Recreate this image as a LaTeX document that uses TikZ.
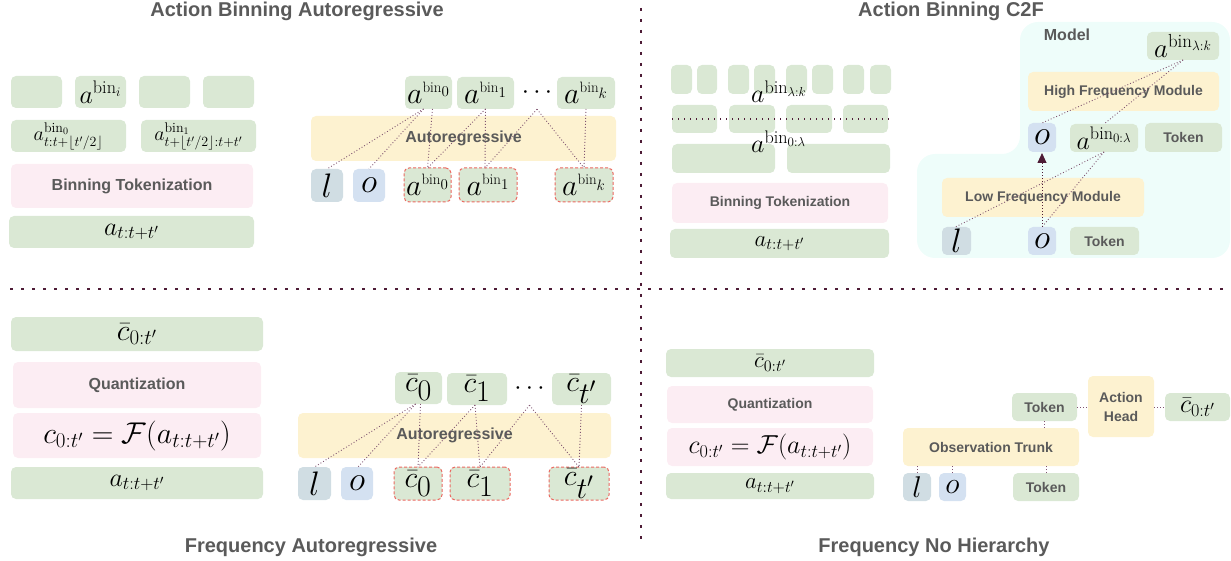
\RequirePackage{fix-cm}
\documentclass[tikz,border=0pt]{standalone}
\usepackage{fontspec}
\setsansfont{Liberation Sans}
\usetikzlibrary{arrows.meta}

\definecolor{cgreen}{RGB}{218,232,212}
\definecolor{cpink}{RGB}{252,237,243}
\definecolor{cyellow}{RGB}{253,242,208}
\definecolor{cgreyblue}{RGB}{208,221,227}
\definecolor{cblue}{RGB}{212,225,241}
\definecolor{cmint}{RGB}{238,253,250}
\definecolor{cred}{RGB}{236,104,96}
\definecolor{tgray}{RGB}{90,90,90}
\definecolor{lncol}{RGB}{128,84,112}
\definecolor{divcol}{RGB}{78,28,54}

% box from corner (#3,#4) to corner (#5,#6), pixel units, y downwards
\newcommand\bx[6]{%
  \node[#2, minimum width={(#5-#3)*1pt}, minimum height={(#6-#4)*1pt}]
    (#1) at ({(#3+#5)/2},{(#4+#6)/2})}
% bin-indexed action token with a small superscript
\newcommand\abin[1]{a^{\scriptscriptstyle\mathrm{bin}_{#1}}}
% quantised coefficient with a full-size index
\newcommand\cq[1]{\bar{c}_{\textstyle #1}}

\begin{document}
\begin{tikzpicture}[x=1pt,y=-1pt,
  base/.style={inner sep=0pt, outer sep=0pt, rounded corners=5pt},
  gbox/.style={base, fill=cgreen},
  pbox/.style={base, fill=cpink},
  ybox/.style={base, fill=cyellow},
  lbox/.style={base, fill=cgreyblue},
  obox/.style={base, fill=cblue},
  rbox/.style={base, fill=cgreen, draw=cred, line width=1pt, dash pattern=on 3pt off 2pt},
  lbl/.style={font=\sffamily\bfseries\fontsize{14}{16}\selectfont, text=tgray},
  lblb/.style={font=\sffamily\bfseries\fontsize{16}{18}\selectfont, text=tgray},
  title/.style={font=\sffamily\bfseries\fontsize{20}{24}\selectfont, text=tgray, anchor=base},
  mbig/.style={font=\fontsize{34}{38}\selectfont},
  mlg/.style={font=\fontsize{30}{34}\selectfont},
  mmd/.style={font=\fontsize{26}{30}\selectfont},
  msm/.style={font=\fontsize{23}{27}\selectfont},
  mxs/.style={font=\fontsize{20}{24}\selectfont},
  conn/.style={draw=lncol, line width=0.9pt, dash pattern=on 0.9pt off 2.1pt},
  divider/.style={draw=divcol, line width=2.6pt, dash pattern=on 2.6pt off 8.4pt},
]
\useasboundingbox (0,0) rectangle (1231,561);

% ---------- quadrant dividers ----------
\coordinate (vTop) at (641,8);
\coordinate (vBot) at (641,542);
\coordinate (hL) at (10,289);
\coordinate (hR) at (1229,289);
\draw[divider] (vTop) -- (vBot);
\draw[divider] (hL) -- (hR);

% ---------- titles ----------
\node[title] (t1) at (297,17) {Action Binning Autoregressive};
\node[title] (t2) at (951,17) {Action Binning C2F};
\node[title] (t3) at (311,552) {Frequency Autoregressive};
\node[title] (t4) at (934,552) {Frequency No Hierarchy};

% =========== Action Binning Autoregressive ===========
\bx{r1a}{gbox}{11}{76}{62}{108}{};
\bx{r1b}{gbox,mmd}{75}{76}{126}{108}{$a^{\mathrm{bin}_i}$};
\bx{r1c}{gbox}{139}{76}{190}{108}{};
\bx{r1d}{gbox}{203}{76}{254}{108}{};
\bx{r2a}{gbox,mxs}{11}{120}{126}{152}{$a^{\mathrm{bin}_0}_{t:t+\lfloor t'/2\rfloor}$};
\bx{r2b}{gbox,mxs}{141}{120}{256}{152}{$a^{\mathrm{bin}_1}_{t+\lfloor t'/2\rfloor:t+t'}$};
\bx{bt1}{pbox,lblb}{11}{164}{253}{208}{Binning Tokenization};
\bx{at1}{gbox,mmd}{9}{216}{254}{248}{$a_{t:t+t'}$};

\bx{ar1}{ybox,lblb}{311}{116}{616}{161}{Autoregressive};
\bx{tb0}{gbox,mlg}{405}{76}{452}{109}{$\abin{0}$};
\bx{tb1}{gbox,mlg}{457}{77}{514}{109}{$\abin{1}$};
\bx{tdots}{mmd}{522}{77}{552}{109}{$\cdots$};
\bx{tbk}{gbox,mlg}{557}{77}{615}{109}{$\abin{k}$};
\bx{l1}{lbox,mbig}{311}{169}{343}{202}{$l$};
\bx{o1}{obox,mbig}{353}{169}{385}{202}{$o$};
\bx{bb0}{rbox,mlg}{404}{168}{451}{202}{$\abin{0}$};
\bx{bb1}{rbox,mlg}{459}{168}{517}{202}{$\abin{1}$};
\bx{bbk}{rbox,mlg}{555}{168}{613}{202}{$\abin{k}$};

\draw[conn] ([xshift=-5pt]tb0.south) -- ([xshift=0pt]l1.north);
\draw[conn] ([xshift=-5pt]tb0.south) -- ([xshift=0pt]o1.north);
\draw[conn] ([xshift=4pt]tb0.south) -- (bb0.north);
\draw[conn] (tb1.south) -- (bb0.north);
\draw[conn] (tb1.south) -- ([xshift=-3pt]bb1.north);
\draw[conn] (tdots.south) -- ([xshift=-3pt]bb1.north);
\draw[conn] (tdots.south) -- (bbk.north);
\draw[conn] (tbk.south) -- (bbk.north);

% =========== Action Binning C2F ===========
\foreach \xa/\xb [count=\i] in {671/692,697/717,728/749,754/775,786/807,812/833,843/864,870/891}
  {\bx{s\i}{gbox}{\xa}{65}{\xb}{94}{};}
\foreach \xa/\xb [count=\i] in {672/717,729/775,786/832,843/888}
  {\bx{m\i}{gbox}{\xa}{105}{\xb}{133}{};}
\bx{w1}{gbox}{672}{144}{775}{173}{};
\bx{w2}{gbox}{787}{144}{890}{173}{};
\coordinate (sepL) at (672,119);
\coordinate (sepR) at (889,119);
\draw[draw=divcol, line width=1.3pt, dash pattern=on 1.3pt off 4.7pt] (sepL) -- (sepR);
\node[mmd, anchor=base west, inner sep=0pt] (hiLbl) at (751,103) {$a^{\mathrm{bin}_{\lambda:k}}$};
\node[mmd, anchor=base west, inner sep=0pt] (loLbl) at (751,153) {$a^{\mathrm{bin}_{0:\lambda}}$};
\bx{bt2}{pbox,lbl}{672}{183}{888}{223}{Binning Tokenization};
\bx{at2}{gbox,msm}{670}{229}{889}{258}{$a_{t:t+t'}$};

% model region
\fill[cmint, rounded corners=18pt] (917,258) -- (917,154) -- (1020,154) -- (1020,22)
  -- (1230,22) -- (1230,258) -- cycle;
\node[lblb] (model) at (1067,35) {Model};
\bx{mk}{gbox,font=\fontsize{27}{31}\selectfont}{1147}{32}{1219}{60}{$a^{\mathrm{bin}_{\lambda:k}}$};
\bx{hfm}{ybox,lbl}{1028}{72}{1219}{111}{High Frequency Module};
\bx{ou}{obox,mbig}{1028}{123}{1056}{152}{$o$};
\bx{m0}{gbox,mmd}{1070}{124}{1138}{152}{$a^{\mathrm{bin}_{0:\lambda}}$};
\bx{tku}{gbox,lbl}{1145}{123}{1222}{152}{Token};
\bx{lfm}{ybox,lbl}{942}{178}{1144}{217}{Low Frequency Module};
\bx{ll}{lbox,mbig}{942}{227}{971}{255}{$l$};
\bx{ol}{obox,mbig}{1028}{227}{1056}{255}{$o$};
\bx{tkl}{gbox,lbl}{1070}{227}{1139}{255}{Token};

\draw[conn] (mk.south) -- (ou.north);
\draw[conn] (mk.south) -- (m0.north);
\draw[conn] (m0.south) -- ([xshift=-1pt]ll.north);
\draw[conn] (m0.south) -- (ol.north);
\draw[conn, -{Triangle[width=9pt,length=10pt]}, divcol] (ol.north) -- ([yshift=-1pt]ou.south);

% =========== Frequency Autoregressive ===========
\bx{cb3}{gbox,mlg}{11}{317}{263}{351}{$\bar{c}_{0:t'}$};
\bx{q3}{pbox,lblb}{13}{362}{261}{408}{Quantization};
\bx{f3}{pbox,mlg}{13}{413}{261}{458}{$c_{0:t'} = \mathcal{F}(a_{t:t+t'})$};
\bx{a3}{gbox,mmd}{11}{467}{263}{499}{$a_{t:t+t'}$};

\bx{ar3}{ybox,lblb}{298}{413}{611}{458}{Autoregressive};
\bx{tc0}{gbox,mlg}{395}{372}{442}{404}{$\cq{0}$};
\bx{tc1}{gbox,mlg}{447}{373}{507}{405}{$\cq{1}$};
\bx{cdots}{mmd}{514}{373}{545}{405}{$\cdots$};
\bx{tct}{gbox,mlg}{552}{373}{611}{405}{$\cq{t'}$};
\bx{l3}{lbox,mbig}{298}{467}{331}{500}{$l$};
\bx{o3}{obox,mbig}{341}{467}{373}{500}{$o$};
\bx{bc0}{rbox,mlg}{394}{467}{442}{500}{$\cq{0}$};
\bx{bc1}{rbox,mlg}{450}{467}{510}{500}{$\cq{1}$};
\bx{bct}{rbox,mlg}{549}{467}{609}{500}{$\cq{t'}$};

\draw[conn] ([xshift=-3pt]tc0.south) -- ([xshift=0pt]l3.north);
\draw[conn] ([xshift=-3pt]tc0.south) -- ([xshift=1pt]o3.north);
\draw[conn] ([xshift=2pt]tc0.south) -- (bc0.north);
\draw[conn] ([xshift=-2pt]tc1.south) -- (bc0.north);
\draw[conn] ([xshift=-2pt]tc1.south) -- (bc1.north);
\draw[conn] (cdots.south) -- (bc1.north);
\draw[conn] (cdots.south) -- (bct.north);
\draw[conn] (tct.south) -- (bct.north);

% =========== Frequency No Hierarchy ===========
\bx{cb4}{gbox,msm}{666}{349}{874}{377}{$\bar{c}_{0:t'}$};
\bx{q4}{pbox,lbl}{667}{386}{873}{423}{Quantization};
\bx{f4}{pbox,mmd}{667}{428}{873}{466}{$c_{0:t'} = \mathcal{F}(a_{t:t+t'})$};
\bx{a4}{gbox,msm}{666}{473}{874}{499}{$a_{t:t+t'}$};

\bx{tkT}{gbox,lbl}{1012}{393}{1077}{421}{Token};
\bx{ah}{ybox,lbl,align=center}{1088}{376}{1154}{437}{Action\\[3pt]Head};
\bx{cb5}{gbox,mmd}{1165}{393}{1230}{421}{$\bar{c}_{0:t'}$};
\bx{ot}{ybox,lbl}{903}{428}{1079}{466}{Observation Trunk};
\bx{l4}{lbox,mlg}{903}{473}{931}{501}{$l$};
\bx{o4}{obox,mlg}{939}{473}{966}{501}{$o$};
\bx{tkB}{gbox,lbl}{1013}{473}{1079}{501}{Token};

\draw[conn] (tkT.east) -- (tkT.east -| ah.west);
\draw[conn] (ah.east |- cb5.west) -- (cb5.west);
\draw[conn] (tkT.south) -- (tkT.south |- ot.north);
\draw[conn] (l4.north) -- (l4.north |- ot.south);
\draw[conn] (o4.north) -- (o4.north |- ot.south);
\draw[conn] (tkB.north) -- (tkB.north |- ot.south);
\end{tikzpicture}
\end{document}
